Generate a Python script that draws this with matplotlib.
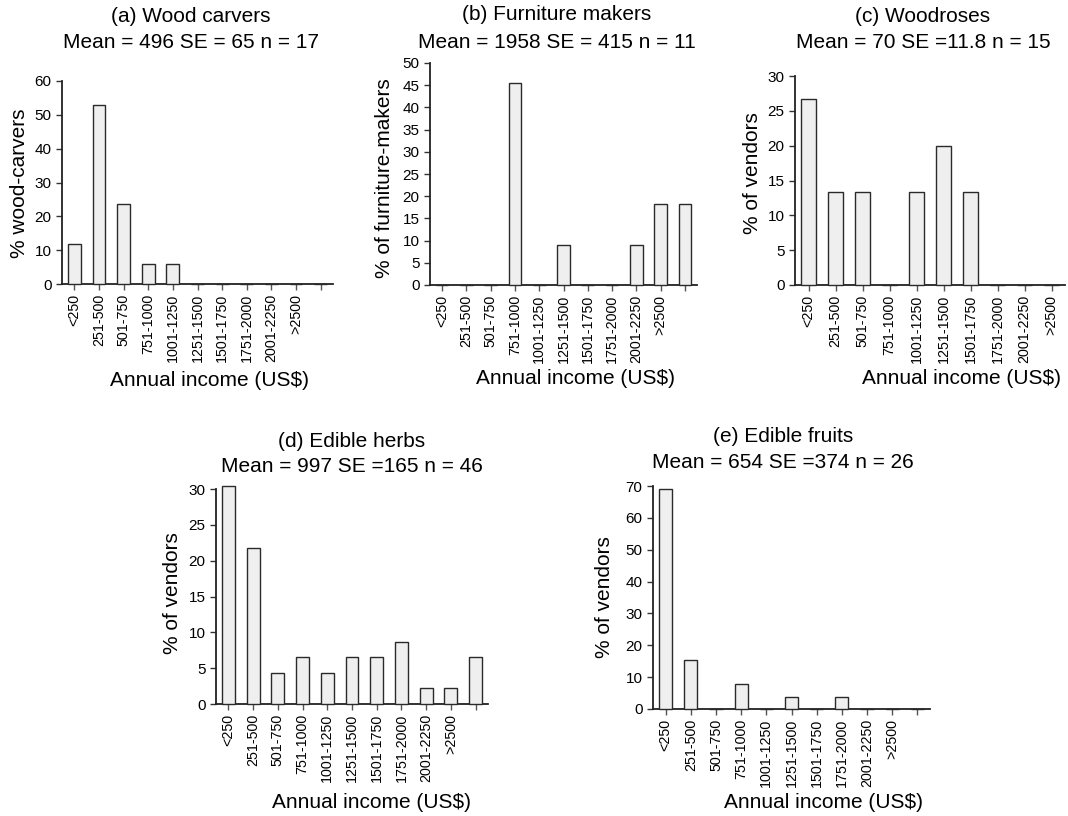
import matplotlib
matplotlib.use("Agg")
import matplotlib.pyplot as plt
import numpy as np

plt.rcParams["font.family"] = ["Liberation Sans", "DejaVu Sans"]

W, H = 1068, 816

# income classes (US$)
CLASSES = ["<250", "251-500", "501-750", "751-1000", "1001-1250",
           "1251-1500", "1501-1750", "1751-2000", "2001-2250", ">2500"]

# % of people per income class (11 slots: the last one has no label)
wood_carvers = [11.8, 52.9, 23.5, 5.9, 5.9, 0, 0, 0, 0, 0, 0]
furniture_makers = [0, 0, 0, 45.5, 0, 9.1, 0, 0, 9.1, 18.2, 18.2]
woodroses = [26.7, 13.3, 13.3, 0, 13.3, 20.0, 13.3, 0, 0, 0]
edible_herbs = [30.4, 21.7, 4.3, 6.5, 4.3, 6.5, 6.5, 8.7, 2.2, 2.2, 6.5]
edible_fruits = [69.2, 15.4, 0, 7.7, 0, 3.8, 0, 3.8, 0, 0, 0]

TITLES = ["(a) Wood carvers", "(b) Furniture makers", "(c) Woodroses",
          "(d) Edible herbs", "(e) Edible fruits"]
STATS = ["Mean = 496 SE = 65 n = 17", "Mean = 1958 SE = 415 n = 11",
         "Mean = 70 SE =11.8 n = 15", "Mean = 997 SE =165 n = 46",
         "Mean = 654 SE =374 n = 26"]
YLABELS = ["% wood-carvers", "% of furniture-makers", "% of vendors",
           "% of vendors", "% of vendors"]
YMAX = [60, 50, 30, 30, 70]
YSTEP = [10, 5, 5, 5, 10]
SERIES = [wood_carvers, furniture_makers, woodroses, edible_herbs, edible_fruits]

# axes boxes in pixels: left, right, top, bottom
BOXES = [(62, 333, 81, 284), (430, 697, 63, 285), (795, 1065, 76, 285),
         (216, 488, 489, 704), (653, 930, 486, 709)]
# title centre x, line1 y, line2 y
TITLE_POS = [(191, 16, 42), (557, 15, 43), (923, 17, 43),
             (352, 442, 467), (783, 437, 463)]
XLAB_POS = [(209, 380), (575, 378), (961, 378), (371, 803), (823, 803)]
YLAB_POS = [(20, 183), (385, 178), (752, 173), (173, 593), (605, 597)]

fig = plt.figure(figsize=(W / 100, H / 100), dpi=100)

for i, vals in enumerate(SERIES):
    l, r, t, b = BOXES[i]
    ax = fig.add_axes([l / W, 1 - b / H, (r - l) / W, (b - t) / H])
    x = np.arange(len(vals))
    ax.bar(x, vals, width=0.52, color="#efefef", edgecolor="#2a2a2a",
           linewidth=1.0, zorder=3, clip_on=False)
    ax.set_xlim(-0.5, len(vals) - 0.5)
    ax.set_ylim(0, YMAX[i])
    ax.set_yticks(np.arange(0, YMAX[i] + 1, YSTEP[i]))
    labels = CLASSES + [""] * (len(vals) - len(CLASSES))
    ax.set_xticks(x)
    ax.set_xticklabels(labels, rotation=90, fontsize=10.3)
    ax.tick_params(axis="y", labelsize=11, length=4, width=1, color="#333333")
    ax.tick_params(axis="x", length=4, width=1, color="#555555", pad=3)
    for s in ["top", "right"]:
        ax.spines[s].set_visible(False)
    for s in ["left", "bottom"]:
        ax.spines[s].set_linewidth(1.3)
        ax.spines[s].set_color("#222222")

    tx, ty1, ty2 = TITLE_POS[i]
    fig.text(tx / W, 1 - ty1 / H, TITLES[i], ha="center", va="center", fontsize=15)
    fig.text(tx / W, 1 - ty2 / H, STATS[i], ha="center", va="center", fontsize=15)
    xx, xy = XLAB_POS[i]
    fig.text(xx / W, 1 - xy / H, "Annual income (US$)", ha="center",
             va="center", fontsize=15)
    yx, yy = YLAB_POS[i]
    fig.text(yx / W, 1 - yy / H, YLABELS[i], ha="center", va="center",
             rotation=90, fontsize=15)

fig.savefig("out.png", dpi=100)
